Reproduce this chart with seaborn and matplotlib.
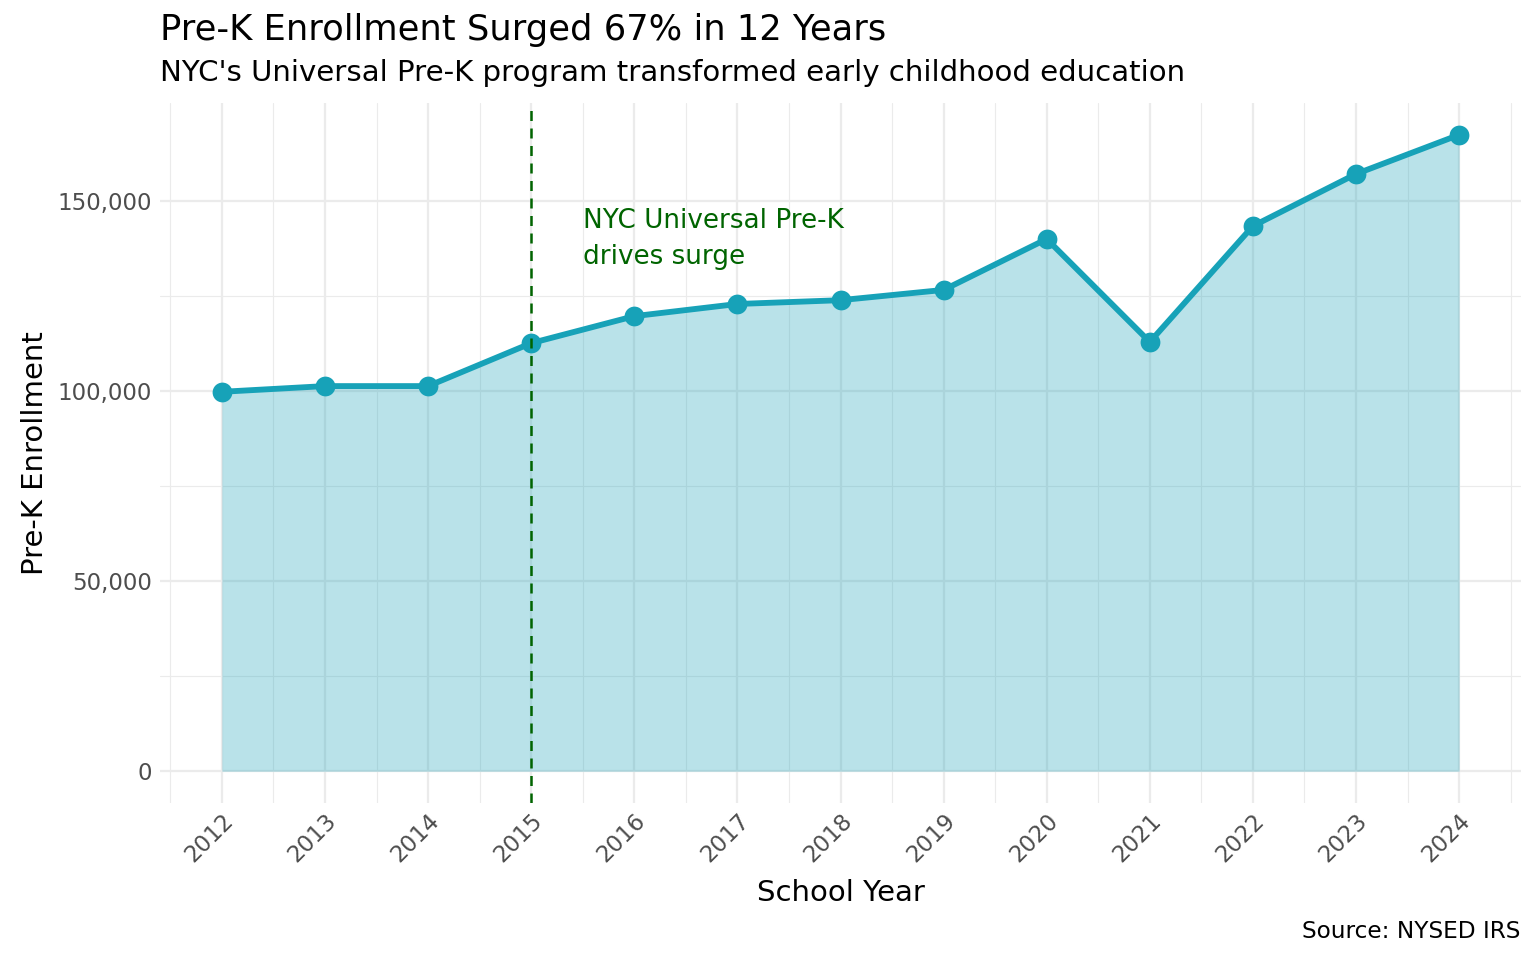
import matplotlib
matplotlib.use('Agg')
import matplotlib.pyplot as plt
import matplotlib.ticker as mticker
import pandas as pd
import seaborn as sns

# data
years = [2012, 2013, 2014, 2015, 2016, 2017, 2018, 2019, 2020, 2021, 2022, 2023, 2024]
enrollment = [99800, 101300, 101300, 112600, 119700, 122900, 123900, 126600,
              140000, 112900, 143400, 157100, 167400]
y_ticks = [0, 50000, 100000, 150000]
y_minor = [25000, 75000, 125000]
upk_year = 2015
note_text = "NYC Universal Pre-K\ndrives surge"

df = pd.DataFrame({'year': years, 'enrollment': enrollment})

teal = '#17A2B8'
green = '#006400'
grid_c = '#EBEBEB'
tick_c = '#4D4D4D'

sns.set_theme(style='white')
plt.rcParams['font.family'] = ['DejaVu Sans']

W, H, DPI = 1536, 960, 150
fig = plt.figure(figsize=(W / DPI, H / DPI), dpi=DPI)
ax = fig.add_axes([160 / W, 1 - 803 / H, (1521 - 160) / W, 700 / H])

# limits with ggplot-style 5% expansion
span_x = years[-1] - years[0]
ax.set_xlim(years[0] - 0.05 * span_x, years[-1] + 0.05 * span_x)
ymax = max(enrollment)
ax.set_ylim(-0.05 * ymax, ymax * 1.05)

# grid
ax.set_xticks(years)
ax.set_xticks([y + 0.5 for y in years[:-1]] + [years[0] - 0.5, years[-1] + 0.5], minor=True)
ax.set_yticks(y_ticks)
ax.set_yticks(y_minor, minor=True)
ax.grid(True, which='major', color=grid_c, linewidth=1.1)
ax.grid(True, which='minor', color=grid_c, linewidth=0.55)
ax.set_axisbelow(True)
for s in ax.spines.values():
    s.set_visible(False)

ax.fill_between(df['year'], 0, df['enrollment'], color=teal, alpha=0.3, linewidth=0, zorder=2)
sns.lineplot(data=df, x='year', y='enrollment', ax=ax, color=teal, linewidth=2.8,
             marker='o', markersize=9.5, markeredgewidth=0, zorder=3)

ax.axvline(upk_year, color=green, linestyle=(0, (4, 3)), linewidth=1.2, zorder=4)
ax.text(upk_year + 0.5, 140000, note_text, color=green, fontsize=12.6,
        ha='left', va='center', linespacing=1.5, zorder=5)

ax.yaxis.set_major_formatter(mticker.FuncFormatter(lambda v, p: f"{int(v):,}"))
ax.tick_params(axis='both', which='both', length=0, labelsize=11, labelcolor=tick_c)
ax.tick_params(axis='x', pad=3)
ax.tick_params(axis='y', pad=4)
for lab in ax.get_xticklabels():
    lab.set_rotation(45)
    lab.set_ha('right')
    lab.set_va('top')
    lab.set_rotation_mode('anchor')

ax.set_xlabel('School Year', fontsize=14, color='black', labelpad=6)
ax.set_ylabel('Pre-K Enrollment', fontsize=14, color='black', labelpad=4)

fig.text(160 / W, 1 - 30 / H, 'Pre-K Enrollment Surged 67% in 12 Years',
         fontsize=16.9, color='black', ha='left', va='center')
fig.text(160 / W, 1 - 73 / H, "NYC's Universal Pre-K program transformed early childhood education",
         fontsize=14.05, color='black', ha='left', va='center')
fig.text(1520 / W, 1 - 932 / H, 'Source: NYSED IRS', fontsize=11.2, color='black',
         ha='right', va='center')

fig.savefig('out.png', dpi=DPI, facecolor='white')
plt.close(fig)
